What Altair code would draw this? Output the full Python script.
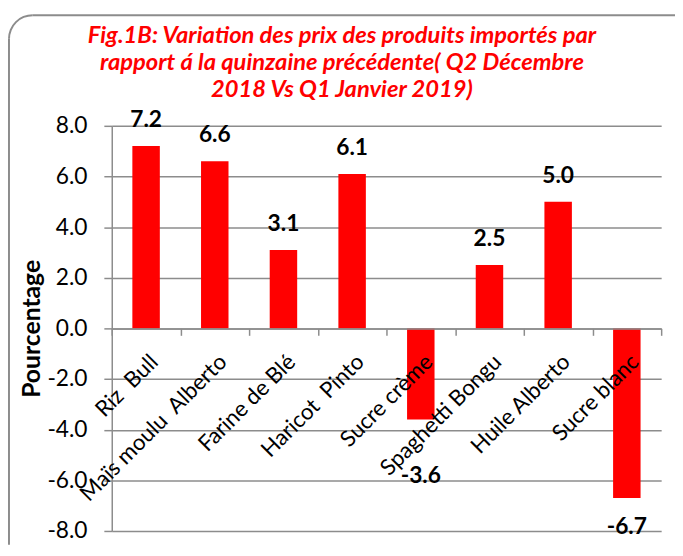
import math
import altair as alt
import pandas as pd

# ---- data ----
categories = ["Riz \u00a0Bull", "Maïs moulu \u00a0Alberto", "Farine de Blé", "Haricot \u00a0Pinto",
              "Sucre crème", "Spaghetti Bongu", "Huile Alberto", "Sucre blanc"]
values = [7.2, 6.6, 3.1, 6.1, -3.6, 2.5, 5.0, -6.7]
y_ticks = [-8, -6, -4, -2, 0, 2, 4, 6, 8]
title_lines = ["Fig.1B: Variation des prix des produits importés par",
               "rapport á la quinzaine précédente( Q2 Décembre",
               "2018 Vs Q1 Janvier 2019)"]
y_title = "Pourcentage"

df = pd.DataFrame({"cat": categories, "val": values,
                   "lab": [f"{v:.1f}" for v in values]})

FONT = "Lato"
GRID = "#8c8c8c"
RED = "#FF0000"
W, H = 556, 410
PAD_L, PAD_T, PAD_R, PAD_B = 105, 116, 14, 14

x_enc = alt.X("cat:N", sort=categories,
              scale=alt.Scale(paddingInner=0, paddingOuter=0),
              axis=alt.Axis(title=None, orient="bottom", offset=-H / 2, zindex=1,
                            tickBand="extent", tickSize=7, tickColor=GRID, tickWidth=1.5,
                            domainColor=GRID, domainWidth=1.5, grid=False,
                            labelAngle=-45, labelAlign="right", labelBaseline="middle",
                            labelOffset=8, labelPadding=23, labelFont=FONT,
                            labelFontSize=22.5, labelColor="black", labelLimit=400,
                            labelOverlap=False, labelBound=False, labelFlush=False))

y_enc = alt.Y("val:Q",
              scale=alt.Scale(domain=[-8, 8], nice=False),
              axis=alt.Axis(values=y_ticks,
                            labelExpr="replace(format(datum.value, '.1f'), '\u2212', '-')",
                            labelFont=FONT, labelFontSize=23, labelColor="black",
                            labelPadding=17, tickSize=8, tickColor=GRID, tickWidth=1.5,
                            domainColor=GRID, domainWidth=1.5,
                            gridColor=GRID, gridWidth=1.5,
                            title=y_title, titleFont=FONT, titleFontSize=25,
                            titleFontWeight="bold", titleColor="black",
                            titleX=-81, titleY=H / 2, titleAngle=270,
                            titleAlign="center", titleBaseline="middle"))

base = alt.Chart(df)

bars = base.mark_bar(color=RED, width=alt.RelativeBandSize(0.4)).encode(
    x=x_enc, y=y_enc, y2=alt.datum(0))

LAB = dict(font=FONT, fontSize=23, fontWeight="bold", color="black", baseline="middle")

lab_pos = base.transform_filter(alt.datum.val >= 0).mark_text(dy=-26.5, **LAB).encode(
    x=alt.X("cat:N", sort=categories), y="val:Q", text="lab:N")

lab_neg = base.transform_filter(
    (alt.datum.val < 0) & (alt.datum.cat != "Sucre crème")).mark_text(dy=29, **LAB).encode(
    x=alt.X("cat:N", sort=categories), y="val:Q", text="lab:N")

# label manually moved in the original to clear the rotated category text
lab_moved = base.transform_filter(alt.datum.cat == "Sucre crème").mark_text(dy=57, **LAB).encode(
    x=alt.X("cat:N", sort=categories), y="val:Q", text="lab:N")

one = alt.Chart(pd.DataFrame({"k": [0]}))

title = one.mark_text(text=title_lines, font=FONT, fontSize=24, fontWeight="bold",
                      fontStyle="italic", color=RED, align="center", baseline="middle",
                      lineHeight=27.5).encode(x=alt.value(233), y=alt.value(-91))

# rounded frame of the original figure (top-left corner; it runs off the right/bottom edges)
FX, FY, R = -104, -112, 24
frame_top = one.mark_rule(color=GRID, strokeWidth=2).encode(
    x=alt.value(FX + R), x2=alt.value(W + PAD_R), y=alt.value(FY))
frame_left = one.mark_rule(color=GRID, strokeWidth=2).encode(
    x=alt.value(FX), y=alt.value(FY + R), y2=alt.value(H + PAD_B))
frame_corner = one.mark_arc(color=GRID, radius=R + 1, radius2=R - 1,
                            theta=1.5 * math.pi, theta2=2 * math.pi).encode(
    x=alt.value(FX + R), y=alt.value(FY + R))

chart = alt.layer(frame_top, frame_left, frame_corner, bars, lab_pos, lab_neg,
                  lab_moved, title).properties(
    width=W, height=H,
    autosize=alt.AutoSizeParams(type="none"),
    padding={"left": PAD_L, "top": PAD_T, "right": PAD_R, "bottom": PAD_B},
    background="white",
).configure_view(stroke=None)

chart.save("out.html", embed_options={"renderer": "svg", "actions": False})
